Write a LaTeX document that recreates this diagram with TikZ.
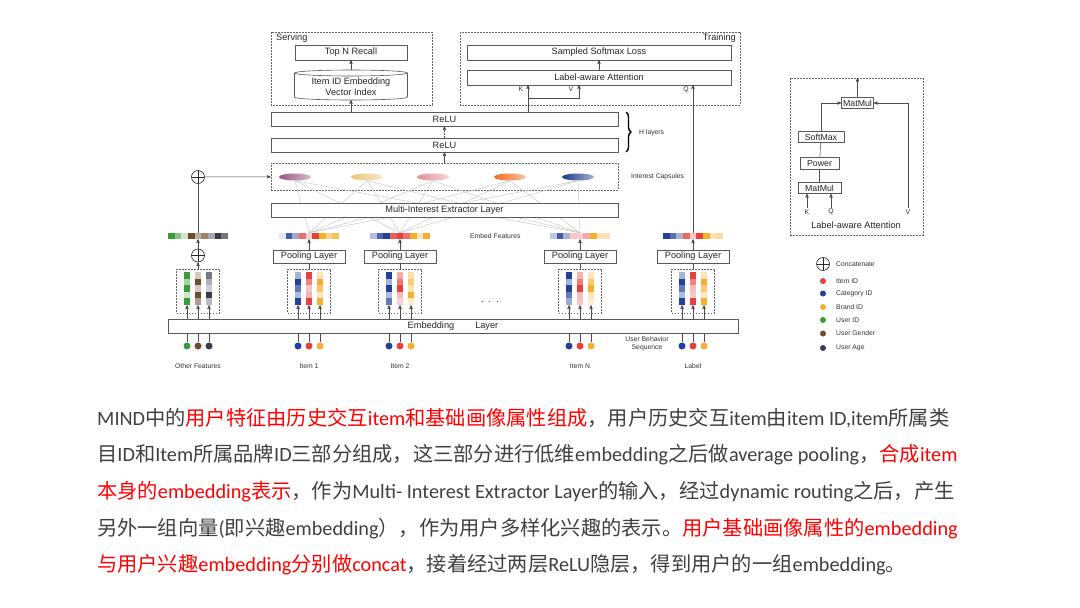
\documentclass[tikz,border=0pt]{standalone}
\usepackage{fontspec}
\setmainfont{Liberation Sans}
\newfontfamily\cjk{Noto Sans CJK SC}
\newfontfamily\txtfont{Carlito}
\usetikzlibrary{arrows,positioning,shapes.geometric,decorations.pathreplacing}

\definecolor{cRed}{HTML}{E8413C}
\definecolor{cBlue}{HTML}{22409A}
\definecolor{cOrange}{HTML}{F6AE2D}
\definecolor{cGreen}{HTML}{3B9B3B}
\definecolor{cBrown}{HTML}{6E4C2C}
\definecolor{cAge}{HTML}{3A3B4B}
\definecolor{capA}{HTML}{9A5685}
\definecolor{capB}{HTML}{EEC47A}
\definecolor{capC}{HTML}{E59098}
\definecolor{capD}{HTML}{F26A1E}
\definecolor{capE}{HTML}{1C3A8E}
\definecolor{tRed}{HTML}{FF0000}
\definecolor{tGray}{HTML}{404040}

\newcommand{\zh}[1]{{\cjk #1}}
% strip of embedded features: name, x centre, colours
\newcommand{\embstrip}[3]{%
  \node[inner sep=0pt,minimum width=60,minimum height=6] (#1) at (#2,236) {};
  \foreach \cl [count=\k from 0] in {#3} \fill[\cl] ({#2-30+\k*6.667},233) rectangle ++(6.667,6);}
% one embedding column: name, x centre, colours
\newcommand{\embcol}[3]{%
  \node[inner sep=0pt,minimum width=6,minimum height=33] (#1) at (#2,288.5) {};
  \foreach \cl [count=\k from 0] in {#3} \fill[\cl] ({#2-3},{272+\k*6.6}) rectangle ++(6,6.6);}

\begin{document}
\begin{tikzpicture}[x=1pt,y=-1pt,>=stealth',
  lbl/.style={font=\fontsize{9.2}{11}\selectfont,text=black!85},
  small/.style={font=\fontsize{8.8}{10}\selectfont,text=black!85},
  tiny/.style={font=\fontsize{6.8}{8}\selectfont,text=black!80,inner sep=1pt},
  box/.style={draw=black!65,line width=0.6pt,fill=white,inner sep=0pt,lbl},
  grp/.style={draw=black!60,line width=0.5pt,dash pattern=on 1.6pt off 1.4pt,inner sep=0pt},
  arr/.style={->,draw=black!70,line width=0.5pt},
  wire/.style={draw=black!70,line width=0.5pt},
  fan/.style={draw=black!22,line width=0.45pt},
  dot/.style={circle,inner sep=0pt,minimum size=7},
  caps/.style={ellipse,inner sep=0pt,minimum width=32,minimum height=7},
  oplus/.style={circle,draw=black!85,line width=0.6pt,minimum size=13,inner sep=0pt,
    path picture={\draw[black!85,line width=0.6pt] (path picture bounding box.north) -- (path picture bounding box.south)
      (path picture bounding box.west) -- (path picture bounding box.east);}}]

\useasboundingbox (0,0) rectangle (1080,608);
\fill[white] (0,0) rectangle (1080,608);

% serving
\draw[grp] (271,32) rectangle (432,105);
\node[lbl,anchor=north west,inner sep=1pt] (serv) at (275,32.5) {Serving};
\node[box,minimum width=112,minimum height=15] (topn) at (351,52.5) {Top N Recall};
\filldraw[draw=black!65,fill=white,line width=0.6pt] (294.5,73) -- (294.5,97) .. controls (294.5,101) and (407.5,101) .. (407.5,97) -- (407.5,73);
\draw[draw=black!65,line width=0.6pt] (351,73) ellipse [x radius=56.5,y radius=3];
\node[lbl,align=center] (vidx) at (351,87) {Item ID Embedding\\Vector Index};
\coordinate (vidxtop) at (351,70);
\coordinate (vidxbot) at (351,100);
\draw[arr] (vidxtop) -- (topn);

% training
\draw[grp] (460,32) rectangle (740,105);
\node[lbl,anchor=north east,inner sep=1pt] (train) at (737,32.5) {Training};
\node[box,minimum width=264,minimum height=15] (ssl) at (599,52.5) {Sampled Softmax Loss};
\node[box,minimum width=264,minimum height=15] (laa) at (599,77.5) {Label-aware Attention};
\draw[arr] (laa) -- (ssl);
\node[tiny] (kl) at (521,89.5) {K};
\node[tiny] (vl) at (571,89.5) {V};
\node[tiny] (ql) at (686,89.5) {Q};
\coordinate (kin) at (528,85);
\coordinate (vin) at (579,85);
\coordinate (qin) at (693,85);
\coordinate (kv) at (528,98);

% relu layers
\node[box,minimum width=347,minimum height=14] (reluTop) at (444.5,119) {ReLU};
\node[box,minimum width=347,minimum height=14] (reluBot) at (444.5,145) {ReLU};
\draw[arr,densely dotted] (reluBot) -- (reluTop);
\draw[decorate,decoration={brace,amplitude=5pt},line width=1.4pt] (626,112) -- (626,152);
\node[tiny,anchor=west] (hl) at (638,133) {H layers};
\draw[arr] (reluTop.north -| vidxbot) -- (vidxbot);
\draw[arr] (reluTop.north -| kin) -- (kin);
\draw[arr] (kv) -- (kv -| vin) -- (vin);

% interest capsules
\node[grp,minimum width=347,minimum height=27] (capbox) at (444.5,176.5) {};
\node[tiny,anchor=west] (ic) at (630,177) {Interest Capsules};
\foreach \x/\cl [count=\i] in {295/capA,367/capB,433/capC,510/capD,578/capE}
  \node[caps,left color=\cl,right color=\cl!40] (cap\i) at (\x,177) {};
\draw[arr] (capbox) -- (reluBot);

% embed features
\embstrip{sO}{198}{cGreen,cGreen!60,cGreen!25,cBrown,cBrown!45,cBrown!70,cAge!45,cAge,cAge!70}
\embstrip{sA}{309}{cBlue!12,cBlue!85,cBlue!45,cRed!75,cRed!25,cRed,cOrange,cOrange!55,cOrange!80}
\embstrip{sB}{400}{cBlue!35,cBlue!80,cBlue,cRed!85,cRed,cRed!75,cOrange,cOrange!35,cOrange}
\embstrip{sN}{580}{cBlue!30,cBlue!85,cBlue!40,cRed!30,cRed!25,cRed!45,cOrange,cOrange!35,cOrange!35}
\embstrip{sL}{693}{cBlue,cBlue!75,cBlue!40,cRed!80,cRed!30,cRed,cOrange,cOrange!35,cOrange!45}
\node[tiny,anchor=west] (ef) at (469,236) {Embed Features};

% routing
\foreach \s in {sA,sB,sN}
  \foreach \i in {1,...,5}
    \draw[fan] (\s.north) -- (cap\i.south);
\node[box,minimum width=347,minimum height=14] (mie) at (444.5,210) {Multi-Interest Extractor Layer};

% other features concat
\node[oplus] (catTop) at (198,177) {};
\node[oplus] (catBot) at (198,255.5) {};
\draw[wire] (sO) -- (catTop);
\draw[arr] (catTop) -- (capbox);
\draw[arr] (catBot) -- (sO);
\draw[arr] (sL) -- (qin);

% pooling
\foreach \n/\x in {A/309,B/400,N/580,L/693}
  \node[box,minimum width=72,minimum height=13] (pool\n) at (\x,256.5) {Pooling Layer};
\foreach \n in {A,B,N,L}
  \draw[arr] (pool\n) -- (s\n);

% embedding columns
\foreach \n/\x in {O/198,A/309,B/400,N/580,L/693}
  \node[grp,minimum width=43,minimum height=44] (grp\n) at (\x,291) {};
\draw[arr] (grpO) -- (catBot);
\foreach \n in {A,B,N,L}
  \draw[wire] (grp\n) -- (pool\n);
\embcol{o1}{187}{cGreen,cGreen!45,cGreen,cGreen!25,cGreen}
\embcol{o2}{198}{cBrown!30,cBrown,cBrown!30,cBrown,cBrown!55}
\embcol{o3}{209}{cAge!70,cAge!40,cAge!25,cAge,cAge!35}
\embcol{a1}{298}{cBlue!40,cBlue,cBlue!70,cBlue!35,cBlue}
\embcol{a2}{309}{cRed,cRed!65,cRed!30,cRed!40,cRed}
\embcol{a3}{320}{cOrange!35,cOrange,cOrange!70,cOrange!30,cOrange}
\embcol{b1}{389}{cBlue,cBlue!40,cBlue,cBlue!35,cBlue!70}
\embcol{b2}{400}{cRed!45,cRed!70,cRed,cRed!35,cRed!25}
\embcol{b3}{411}{cOrange!40,cOrange!65,cOrange!35,cOrange,cOrange!25}
\embcol{n1}{569}{cBlue,cBlue!40,cBlue,cBlue!70,cBlue!45}
\embcol{n2}{580}{cRed!40,cRed!70,cRed,cRed!35,cRed!30}
\embcol{n3}{591}{cOrange!30,cOrange!65,cOrange,cOrange!35,cOrange!20}
\embcol{l1}{682}{cBlue!40,cBlue,cBlue!70,cBlue!35,cBlue}
\embcol{l2}{693}{cRed,cRed!65,cRed!35,cRed!30,cRed}
\embcol{l3}{704}{cOrange!35,cOrange,cOrange!65,cOrange!30,cOrange}
\node[lbl] (dots) at (490,302) {.\ \ .\ \ .};

% embedding layer and inputs
\node[box,minimum width=570,minimum height=14] (emb) at (453,326) {Embedding\hspace{21pt}Layer};
\foreach \g in {o,a,b,n,l}
  \foreach \k in {1,2,3}
    \draw[arr] (emb.north -| \g\k) -- (\g\k.south);
\foreach \k/\dx/\cl in {1/-11/cGreen,2/0/cBrown,3/11/cAge} {
  \node[dot,fill=\cl] (do\k) at ({198+\dx},346) {};
  \draw[wire] (emb.south -| do\k) -- (do\k);}
\foreach \g/\x in {a/309,b/400,n/580,l/693}
  \foreach \k/\dx/\cl in {1/-11/cBlue,2/0/cRed,3/11/cOrange} {
    \node[dot,fill=\cl] (d\g\k) at ({\x+\dx},346) {};
    \draw[wire] (emb.south -| d\g\k) -- (d\g\k);}
\node[tiny] (lOther) at (198,366) {Other Features};
\node[tiny] (lItemA) at (309,366) {Item 1};
\node[tiny] (lItemB) at (400,366) {Item 2};
\node[tiny] (lItemN) at (580,366) {Item N};
\node[tiny] (lLabel) at (693,366) {Label};
\node[tiny,align=center] (ubs) at (647,344) {User Behavior\\Sequence};

% label-aware attention detail
\node[grp,minimum width=133,minimum height=157] (detail) at (856.5,156.5) {};
\node[box,small,minimum width=32,minimum height=11] (mmTop) at (857.5,103) {MatMul};
\node[box,small,minimum width=46,minimum height=11] (smx) at (821,137) {SoftMax};
\node[box,small,minimum width=39,minimum height=12] (pow) at (819.5,163.5) {Power};
\node[box,small,minimum width=43,minimum height=11] (mmBot) at (819.5,188) {MatMul};
\node[tiny] (kd) at (807,212) {K};
\node[tiny] (qd) at (831,212) {Q};
\node[tiny] (vd) at (908,212) {V};
\node[lbl] (dtitle) at (856,225) {Label-aware Attention};
\draw[wire] (mmBot) -- (pow);
\draw[wire] (pow) -- (smx);
\draw[arr] (smx.north) |- (mmTop.west);
\draw[arr] (vd.north) |- (mmTop.east);
\draw[arr] (kd) -- (kd |- mmBot.south);
\draw[arr] (qd) -- (qd |- mmBot.south);
\draw[arr] (mmTop) -- (mmTop |- detail.north);

% legend
\node[oplus] (lgCat) at (823,264) {};
\node[tiny,anchor=west] (lgCatT) at (835,264) {Concatenate};
\foreach \cl/\t/\y [count=\i] in {cRed/Item ID/281,cBlue/Category ID/293.5,cOrange/Brand ID/307,cGreen/User ID/320,cBrown/User Gender/333.5,cAge/User Age/348} {
  \node[dot,fill=\cl,minimum size=6] (lg\i) at (823,\y) {};
  \node[tiny,anchor=west] (lgT\i) at (835,\y) {\t};}

% description
\begin{scope}[every node/.style={anchor=base west,inner sep=0pt,text=tGray,font=\txtfont\fontsize{20.25}{24}\selectfont}]
\node (txtA) at (97,425) {MIND\zh{中的}\textcolor{tRed}{\zh{用户特征由历史交互}item\zh{和基础画像属性组成}}\zh{，用户历史交互}item\zh{由}item ID,item\zh{所属类}};
\node (txtB) at (97,461.5) {\zh{目}ID\zh{和}Item\zh{所属品牌}ID\zh{三部分组成，这三部分进行低维}embedding\zh{之后做}average pooling\zh{，}\textcolor{tRed}{\zh{合成}item}};
\node (txtC) at (97,498) {\textcolor{tRed}{\zh{本身的}embedding\zh{表示}}\zh{，作为}Multi- Interest Extractor Layer\zh{的输入，经过}dynamic routing\zh{之后，产生}};
\node (txtD) at (97,535) {\zh{另外一组向量}(\zh{即兴趣}embedding\zh{），作为用户多样化兴趣的表示。}\textcolor{tRed}{\zh{用户基础画像属性的}embedding}};
\node (txtE) at (97,571.5) {\textcolor{tRed}{\zh{与用户兴趣}embedding\zh{分别做}concat}\zh{，接着经过两层}ReLU\zh{隐层，得到用户的一组}embedding\zh{。}};
\end{scope}
\end{tikzpicture}
\end{document}
